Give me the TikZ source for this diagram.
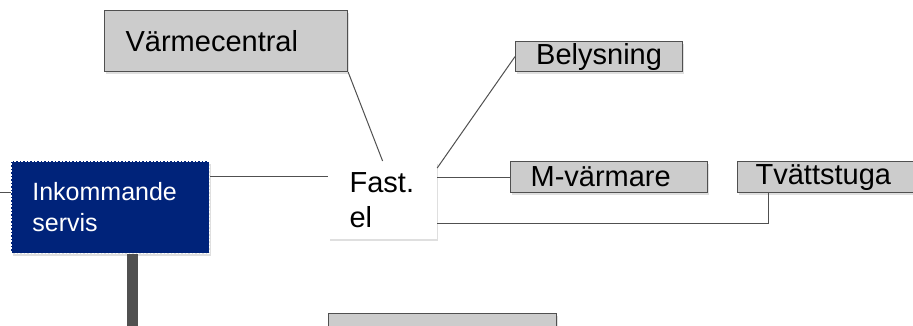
\documentclass[tikz,border=0pt]{standalone}
\usepackage{fontspec}
\setmainfont{Liberation Sans}
\usetikzlibrary{shadows}
\definecolor{servisblue}{HTML}{00237A}
\definecolor{boxgray}{HTML}{CCCCCC}
\definecolor{linegray}{HTML}{505050}
\tikzset{
	unit/.style={rectangle, anchor=north west, draw=linegray, line width=1.2pt, fill=boxgray,
		inner ysep=0pt, align=left, font=\fontsize{29}{35}\selectfont,
		drop shadow={shadow xshift=1.5pt, shadow yshift=-2.5pt, opacity=0.25}},
	wire/.style={draw=linegray, line width=1pt},
}
\begin{document}
\begin{tikzpicture}[x=1pt, y=-1pt]
	\useasboundingbox (0,0) rectangle (913,326);
	\clip (0,0) rectangle (913,326);
	% units
	\node (varme) at (104,10) [unit, inner xsep=21pt, text width=201pt, minimum height=61pt]{Värmecentral};
	\node (bely) at (515,41) [unit, inner xsep=0pt, text width=167pt, align=center, minimum height=30pt]{Belysning};
	\node (mvarm) at (510,161) [unit, inner xsep=20pt, text width=157pt, minimum height=31pt]{M-värmare};
	\node (tvatt) at (737,161) [unit, inner xsep=18pt, text width=140pt, minimum height=31pt]{Tvättstuga};
	\node (lower) at (328,313) [unit, inner xsep=0pt, text width=228pt, minimum height=40pt]{};
	\node (fast) at (328,161) [unit, draw=none, fill=white, inner xsep=21pt, text width=66pt, minimum height=77pt]{Fast.\\el};
	\node (servis) at (11,161) [unit, fill=servisblue, draw=white, line width=0.8pt, dash pattern=on 2pt off 1.5pt,
		text=white, font=\fontsize{25}{31}\selectfont, inner xsep=21pt, text width=156pt, minimum height=92pt,
		drop shadow={opacity=0}]{Inkommande\\servis};
	% wires
	\coordinate (feed) at (0,192);
	\coordinate (down) at (132.5,330);
	\draw[wire] (feed) -- (feed -| servis.west);
	\draw[wire] ([yshift=31pt]servis.east) -- ([yshift=31pt]servis.east -| fast.west);
	\draw[wire] (varme.south east) -- (fast.north);
	\draw[wire] (bely.west) -- ([yshift=-7pt]fast.north east);
	\draw[wire] (mvarm.west -| fast.east) -- (mvarm.west);
	\draw[wire] ([yshift=-23pt]fast.east) -| ([xshift=31pt]tvatt.south west);
	\draw[linegray, line width=11pt] (servis.south -| down) -- (down);
\end{tikzpicture}
\end{document}
